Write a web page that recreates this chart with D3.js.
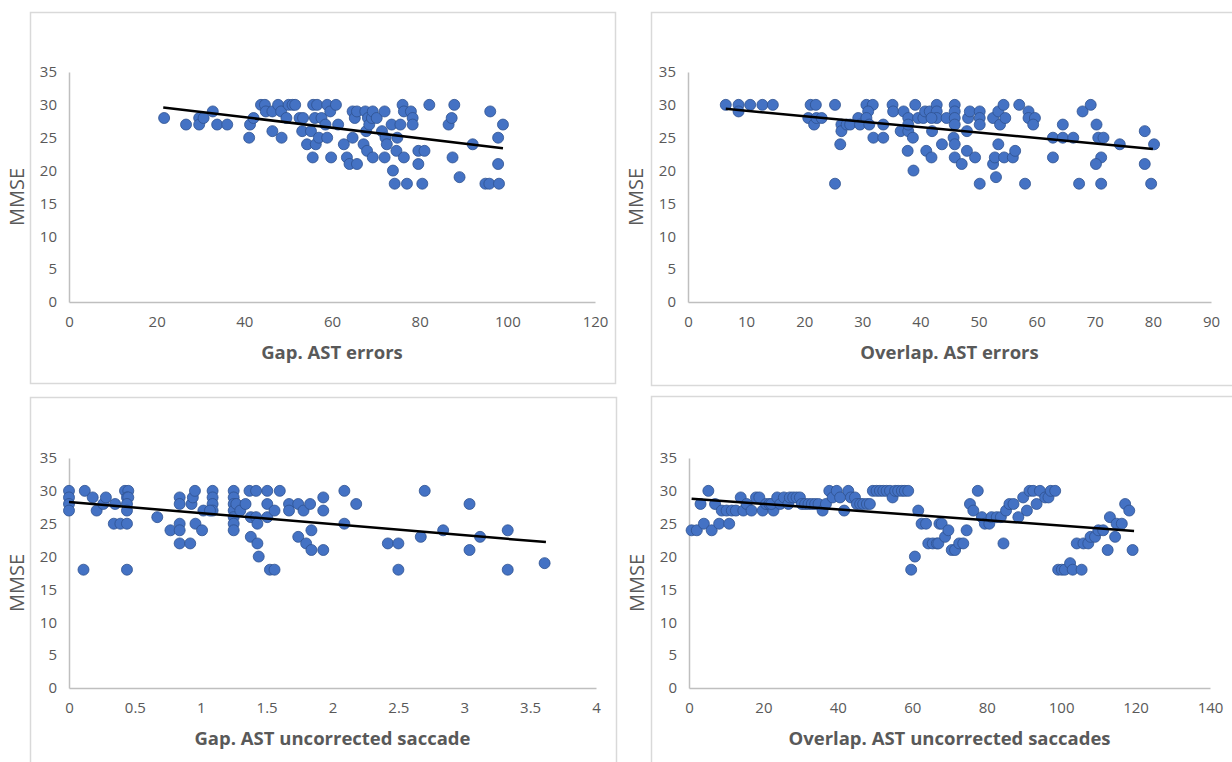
<!DOCTYPE html>
<html><head><meta charset="utf-8">
<script src="https://cdn.jsdelivr.net/npm/d3@7"></script>
<style>
html,body{margin:0;padding:0;background:#fff;}
svg{display:block;}
</style></head>
<body>
<svg id="chart" width="1232" height="762"></svg>
<script>
// ---------- DATA ----------
const yTicks = [0,5,10,15,20,25,30,35];

// Panel 1: Gap. AST errors
const gapErrX = [21.7,26.7,29.7,29.7,30.7,32.8,33.8,36.1,41.1,41.3,42.1,43.8,44.7,44.9,46.4,46.4,47.7,48.4,48.5,49.6,50.1,51.0,51.6,52.6,53.4,53.2,54.3,55.2,55.6,55.7,56.6,56.1,56.3,57.0,57.6,58.5,58.9,58.9,59.6,59.8,60.9,61.4,62.7,63.4,64.0,64.7,64.7,65.2,65.7,65.7,67.2,67.6,67.8,68.0,68.2,68.5,69.1,69.3,69.3,70.2,71.4,72.0,72.0,72.2,72.5,73.6,73.9,74.3,74.7,74.9,75.6,76.1,76.4,76.4,77.1,78.0,78.4,78.4,79.7,79.7,80.6,81.1,82.2,86.6,87.3,87.5,87.9,89.1,92.1,95.0,95.9,96.1,97.9,97.9,98.1,99.0];
const gapErrY = [28,27,28,27,28,29,27,27,25,27,28,30,30,29,29,26,30,29,25,28,30,30,30,28,28,26,24,26,22,30,30,28,24,25,28,27,30,25,29,22,30,27,24,22,21,25,29,28,29,21,24,29,26,23,28,27,28,22,29,28,26,29,22,25,24,27,20,18,23,25,27,30,29,22,18,29,28,27,23,21,18,23,30,27,28,22,30,19,24,18,18,29,25,21,18,27];
const gapErrTicks = [0,20,40,60,80,100,120];
const gapErrTrend = [[21.5,29.6],[99,23.4]];

// Panel 2: Overlap. AST errors
const ovlErrX = [6.5,8.7,8.7,10.7,12.8,14.6,21.1,22.0,20.7,21.7,22.1,23.0,25.3,26.2,25.3,26.4,26.4,27.3,27.9,29.3,29.6,30.7,31.8,31.0,30.7,31.2,31.9,33.6,33.6,35.2,35.3,37.1,36.6,37.9,37.9,37.9,38.7,37.8,38.8,39.1,39.6,40.5,40.8,41.0,41.9,42.0,41.6,42.8,42.8,42.8,41.9,43.7,44.5,45.9,45.9,45.9,45.9,45.7,45.9,45.9,47.1,48.0,48.2,48.5,48.0,49.4,50.2,50.2,50.2,50.2,52.5,53.4,53.7,54.3,54.6,53.4,52.5,52.8,53.0,54.4,55.9,56.3,57.0,58.0,58.6,58.6,59.7,59.4,62.8,62.8,64.5,64.5,66.3,67.3,67.9,69.3,70.3,70.6,71.5,71.1,70.2,71.1,74.3,78.6,78.6,79.7,80.2];
const ovlErrY = [30,30,29,30,30,30,30,30,28,27,28,28,30,24,18,27,26,27,27,28,27,30,30,29,28,27,25,25,27,30,29,29,26,28,26,27,25,23,20,30,28,28,29,23,22,26,29,30,29,28,28,24,28,30,29,28,27,25,24,22,21,26,28,29,23,22,29,28,27,18,28,29,27,30,28,24,21,22,19,22,22,23,30,18,29,28,28,27,25,22,27,25,25,18,29,30,27,25,25,22,21,18,24,26,21,18,24];
const ovlErrTicks = [0,10,20,30,40,50,60,70,80,90];
const ovlErrTrend = [[6.5,29.4],[80,23.3]];

// Panel 3: Gap. AST uncorrected saccade
const gapSacX = [0,0,0,0,0.12,0.11,0.18,0.21,0.26,0.28,0.34,0.35,0.39,0.425,0.45,0.44,0.45,0.44,0.44,0.44,0.44,0.67,0.77,0.84,0.84,0.84,0.84,0.84,0.92,0.93,0.94,0.956,0.96,1.01,1.02,1.09,1.09,1.09,1.09,1.07,1.25,1.25,1.25,1.25,1.25,1.25,1.25,1.27,1.30,1.34,1.37,1.42,1.38,1.38,1.42,1.43,1.43,1.44,1.505,1.505,1.505,1.525,1.56,1.56,1.60,1.67,1.67,1.74,1.74,1.78,1.80,1.83,1.84,1.84,1.93,1.93,1.93,2.09,2.18,2.09,2.42,2.50,2.50,2.70,2.67,2.84,3.04,3.04,3.12,3.33,3.33,3.61];
const gapSacY = [30,29,28,27,30,18,29,27,28,29,25,28,25,30,30,29,29,28,27,25,18,26,24,29,28,25,24,22,22,28,29,30,25,24,27,30,29,28,27,27,30,29,28,27,26,25,24,28,27,28,30,30,26,23,26,25,22,20,30,28,26,18,18,27,30,28,27,28,23,27,22,28,21,24,29,27,21,30,28,25,22,22,18,30,23,24,28,21,23,24,18,19];
const gapSacTicks = [0,0.5,1,1.5,2,2.5,3,3.5,4];
const gapSacTrend = [[0,28.3],[3.62,22.2]];

// Panel 4: Overlap. AST uncorrected saccades
const ovlSacX = [0.7,2.1,3.1,4.0,5.2,6.1,7.0,8.1,8.8,10.1,10.8,11.5,12.6,13.9,14.6,15.5,16.8,18.0,18.9,19.8,20.7,21.6,22.7,22.1,23.7,24.5,25.5,26.7,27.1,28.0,28.9,29.8,30.3,31.2,32.1,33.0,33.9,34.8,35.9,36.8,37.7,38.6,39.7,40.6,41.7,42.8,43.5,44.6,45.1,46.0,46.8,47.8,48.6,49.4,50.4,51.3,52.2,53.1,54.0,54.7,55.4,56.2,57.2,58.0,58.9,59.7,60.7,61.6,62.5,63.7,64.3,65.5,66.6,67.3,67.0,67.9,68.8,69.7,70.6,71.5,72.6,73.7,74.6,75.5,76.4,77.6,78.7,79.5,80.7,81.3,82.7,83.8,84.5,85.2,86.1,87.2,88.5,89.8,90.8,91.5,92.5,93.4,94.3,95.7,96.6,97.2,98.4,99.2,100.2,101.0,102.4,103.1,104.2,105.5,106.0,107.3,107.9,109.1,110.0,111.3,112.5,113.1,114.5,114.9,116.3,117.2,118.3,119.2];
const ovlSacY = [24,24,28,25,30,24,28,25,27,27,25,27,27,29,27,28,27,29,29,27,28,28,27,28,29,28,29,28,29,29,29,29,28,28,28,28,28,28,27,28,30,29,30,29,27,30,29,29,28,28,28,28,28,30,30,30,30,30,30,29,30,30,30,30,30,18,20,27,25,25,22,22,22,25,22,25,23,24,21,21,22,22,24,28,27,30,26,25,25,26,26,26,22,27,28,28,26,29,27,30,30,28,30,29,29,30,30,18,18,18,19,18,22,18,22,22,23,23,24,24,21,26,23,25,25,28,27,21];
const ovlSacTicks = [0,20,40,60,80,100,120,140];
const ovlSacTrend = [[0.7,28.8],[119.6,23.9]];

// ---------- LAYOUT ----------
const panels = [
  {box:[30,12,615,383], plot:[69,72,595,302], xd:[0,120], xs:gapErrX, ys:gapErrY, ticks:gapErrTicks, trend:gapErrTrend, title:"Gap. AST errors"},
  {box:[651,12,1240,385], plot:[688,72,1211,302], xd:[0,90], xs:ovlErrX, ys:ovlErrY, ticks:ovlErrTicks, trend:ovlErrTrend, title:"Overlap. AST errors"},
  {box:[30,397,616,800], plot:[69,458,596,688], xd:[0,4], xs:gapSacX, ys:gapSacY, ticks:gapSacTicks, trend:gapSacTrend, title:"Gap. AST uncorrected saccade"},
  {box:[651,396,1240,800], plot:[689,458,1210,688], xd:[0,140], xs:ovlSacX, ys:ovlSacY, ticks:ovlSacTicks, trend:ovlSacTrend, title:"Overlap. AST uncorrected saccades"}
];

const svg = d3.select("#chart");
const FONT = "'Open Sans', 'Noto Sans', sans-serif";
const TXT = "#595959";

panels.forEach(p => {
  const g = svg.append("g");
  const [bx0,by0,bx1,by1] = p.box;
  g.append("rect").attr("x",bx0+0.5).attr("y",by0+0.5).attr("width",bx1-bx0).attr("height",by1-by0)
    .attr("fill","#fff").attr("stroke","#d9d9d9").attr("stroke-width",1.5);

  const [px0,py0,px1,py1] = p.plot;
  const x = d3.scaleLinear().domain(p.xd).range([px0,px1]);
  const y = d3.scaleLinear().domain([0,35]).range([py1,py0]);

  const xa = g.append("g").attr("transform",`translate(0,${py1})`)
    .call(d3.axisBottom(x).tickValues(p.ticks).tickSize(0).tickPadding(14).tickFormat(d=>d));
  xa.select(".domain").attr("stroke","#bfbfbf").attr("stroke-width",1.5);
  xa.selectAll("text").attr("fill",TXT).attr("font-family",FONT).attr("font-size",15);

  const ya = g.append("g").attr("transform",`translate(${px0},0)`)
    .call(d3.axisLeft(y).tickValues(yTicks).tickSize(0).tickPadding(12));
  ya.select(".domain").attr("stroke","#bfbfbf").attr("stroke-width",1.5);
  ya.selectAll("text").attr("fill",TXT).attr("font-family",FONT).attr("font-size",15);

  const pts = p.xs.map((v,i)=>[v,p.ys[i]]);
  g.append("g").selectAll("circle").data(pts).join("circle")
    .attr("cx",d=>x(d[0])).attr("cy",d=>y(d[1])).attr("r",5.5)
    .attr("fill","#4472C4").attr("stroke","#2F528F").attr("stroke-width",0.8);

  g.append("line")
    .attr("x1",x(p.trend[0][0])).attr("y1",y(p.trend[0][1]))
    .attr("x2",x(p.trend[1][0])).attr("y2",y(p.trend[1][1]))
    .attr("stroke","#000").attr("stroke-width",2.5);

  g.append("text").attr("x",(px0+px1)/2).attr("y",py1+57)
    .attr("text-anchor","middle").attr("fill",TXT).attr("font-family",FONT)
    .attr("font-weight","bold").attr("font-size",18.5).text(p.title);
  g.append("text").attr("transform",`translate(${px0-45},${(py0+py1)/2+10}) rotate(-90)`)
    .attr("text-anchor","middle").attr("fill",TXT).attr("font-family",FONT)
    .attr("font-size",20).text("MMSE");
});
</script>
</body></html>
